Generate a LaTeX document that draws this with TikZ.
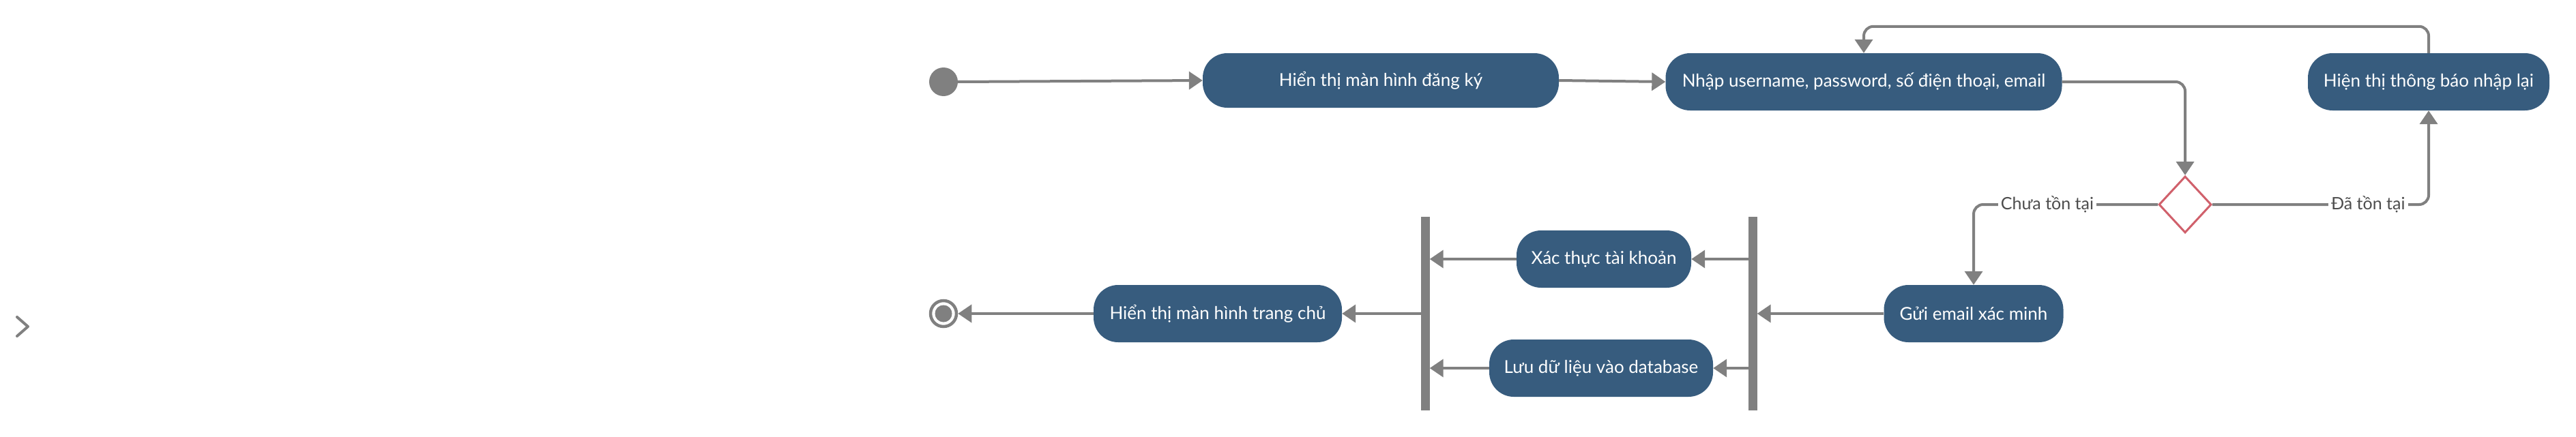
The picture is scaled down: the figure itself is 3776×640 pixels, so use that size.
\documentclass[tikz,border=0pt]{standalone}
\usepackage{fontspec}
\setmainfont{Lato}
\usetikzlibrary{arrows.meta,shapes.geometric}
\definecolor{boxblue}{HTML}{375C7E}
\definecolor{lgray}{HTML}{808080}
\definecolor{dred}{HTML}{D0606B}
\definecolor{lbltext}{HTML}{4D4D4D}
\begin{document}
\begin{tikzpicture}[x=1pt,y=-1pt,
  act/.style={fill=boxblue, text=white, rounded corners=36pt, inner sep=0pt, minimum height=84pt, font=\fontsize{26}{30}\selectfont},
  flow/.style={draw=lgray, line width=4pt, -{Triangle[length=20pt,width=26pt]}, rounded corners=14pt},
  syncbar/.style={fill=lgray, minimum width=13pt, minimum height=284pt, inner sep=0pt},
  lbl/.style={fill=white, text=lbltext, font=\fontsize{25}{29}\selectfont, inner sep=4pt, rounded corners=0pt}]
\useasboundingbox (0,0) rectangle (3776,640);
% chevron
\draw[lgray, line width=4pt, line cap=round, line join=round] (25,465) -- (41,479) -- (25,493);
% nodes
\node[circle, fill=lgray, minimum size=42pt, inner sep=0pt] (start) at (1383,120) {};
\node[act, minimum width=522pt, minimum height=80pt] (b1) at (2024,118) {Hiển thị màn hình đăng ký};
\node[act, minimum width=581pt] (b2) at (2732,120) {Nhập username, password, số điện thoại, email};
\node[act, minimum width=354pt] (b3) at (3560,120) {Hiện thị thông báo nhập lại};
\node[diamond, draw=dred, fill=white, line width=3pt, minimum width=77pt, minimum height=83pt, inner sep=0pt] (d) at (3203,300) {};
\node[act, minimum width=263pt] (b4) at (2893,460) {Gửi email xác minh};
\node[syncbar] (barR) at (2569,460) {};
\node[act, minimum width=256pt] (b5) at (2351,380) {Xác thực tài khoản};
\node[act, minimum width=328pt] (b6) at (2347,540) {Lưu dữ liệu vào database};
\node[syncbar] (barL) at (2089,460) {};
\node[act, minimum width=364pt] (b7) at (1785,460) {Hiển thị màn hình trang chủ};
\node[circle, draw=lgray, fill=white, line width=4.5pt, minimum size=38pt, inner sep=0pt] (end) at (1383,460) {};
\node[circle, fill=lgray, minimum size=25pt, inner sep=0pt] (endin) at (end.center) {};
% connectors
\draw[flow] (start.east) -- (b1.west);
\draw[flow] (b1.east) -- (b2.west);
\draw[flow] (b2.east) -| (d.north);
\draw[flow] (d.east) -| node[lbl, pos=0.36] (lda) {Đã tồn tại} (b3.south);
\draw[flow] (d.west) -| node[lbl, pos=0.30] (lchua) {Chưa tồn tại} (b4.north);
\draw[flow] (b3.north) -- ++(0,-39) -| (b2.north);
\draw[flow] (b4.west) -- (b4.west -| barR.east);
\draw[flow] (barR.center |- b5.east) -- (b5.east);
\draw[flow] (barR.center |- b6.east) -- (b6.east);
\draw[flow] (b5.west) -- (b5.west -| barL.east);
\draw[flow] (b6.west) -- (b6.west -| barL.east);
\draw[flow] (barL.center |- b7.east) -- (b7.east);
\draw[flow] (b7.west) -- (end);
\end{tikzpicture}
\end{document}
